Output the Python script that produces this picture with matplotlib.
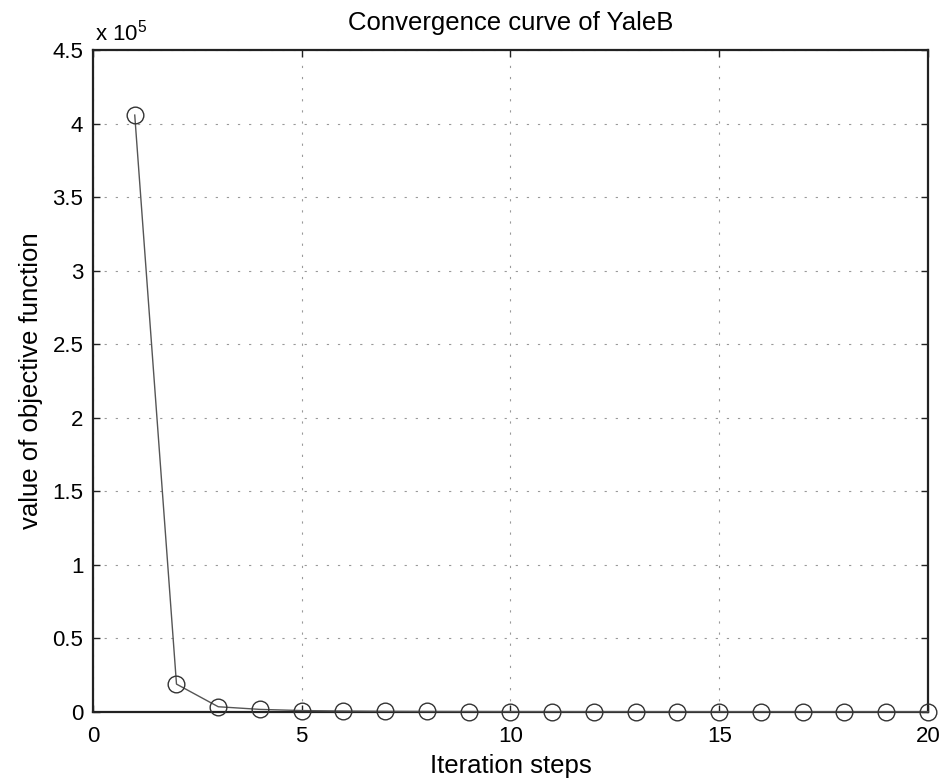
import numpy as np
import matplotlib.pyplot as plt

plt.rcParams['font.family'] = ['Liberation Sans', 'DejaVu Sans']
plt.rcParams['mathtext.fontset'] = 'custom'
plt.rcParams['mathtext.rm'] = 'Liberation Sans'

iterations = list(range(1, 21))
objective = [405800, 19000, 3600, 1800, 1000, 700, 500, 400, 350, 300,
             280, 260, 250, 240, 230, 220, 210, 205, 200, 195]

fig = plt.figure(figsize=(9.45, 7.81), dpi=100)
ax = fig.add_axes([0.0984, 0.0883, 0.8836, 0.8476])

ax.plot(iterations, np.array(objective) / 1e5, color='#555555', lw=1.0,
        marker='o', ms=12, mfc='none', mec='#333333', mew=1.0, clip_on=False,
        zorder=3)

ax.set_xlim(0, 20)
ax.set_ylim(0, 4.5)
ax.set_xticks([0, 5, 10, 15, 20])
ax.set_yticks(np.arange(0, 4.51, 0.5))
ax.set_yticklabels(['0', '0.5', '1', '1.5', '2', '2.5', '3', '3.5', '4', '4.5'])
ax.grid(True, linestyle=(0, (2, 8)), color='#999999', lw=0.8)
ax.tick_params(direction='in', length=5, width=1, labelsize=16,
               top=True, right=True, color='#222222')
ax.tick_params(axis='x', pad=10)
ax.tick_params(axis='y', pad=7)
for s in ax.spines.values():
    s.set_linewidth(1.6)
    s.set_color('#222222')

ax.text(0.002, 1.015, r'x 10$^5$', transform=ax.transAxes, fontsize=16,
        ha='left', va='baseline')
ax.set_title('Convergence curve of YaleB', fontsize=18.5, pad=14.5)
ax.set_xlabel('Iteration steps', fontsize=18.5, labelpad=5)
ax.set_ylabel('value of objective function', fontsize=18.5, labelpad=7)

fig.savefig('out.png', dpi=100)
